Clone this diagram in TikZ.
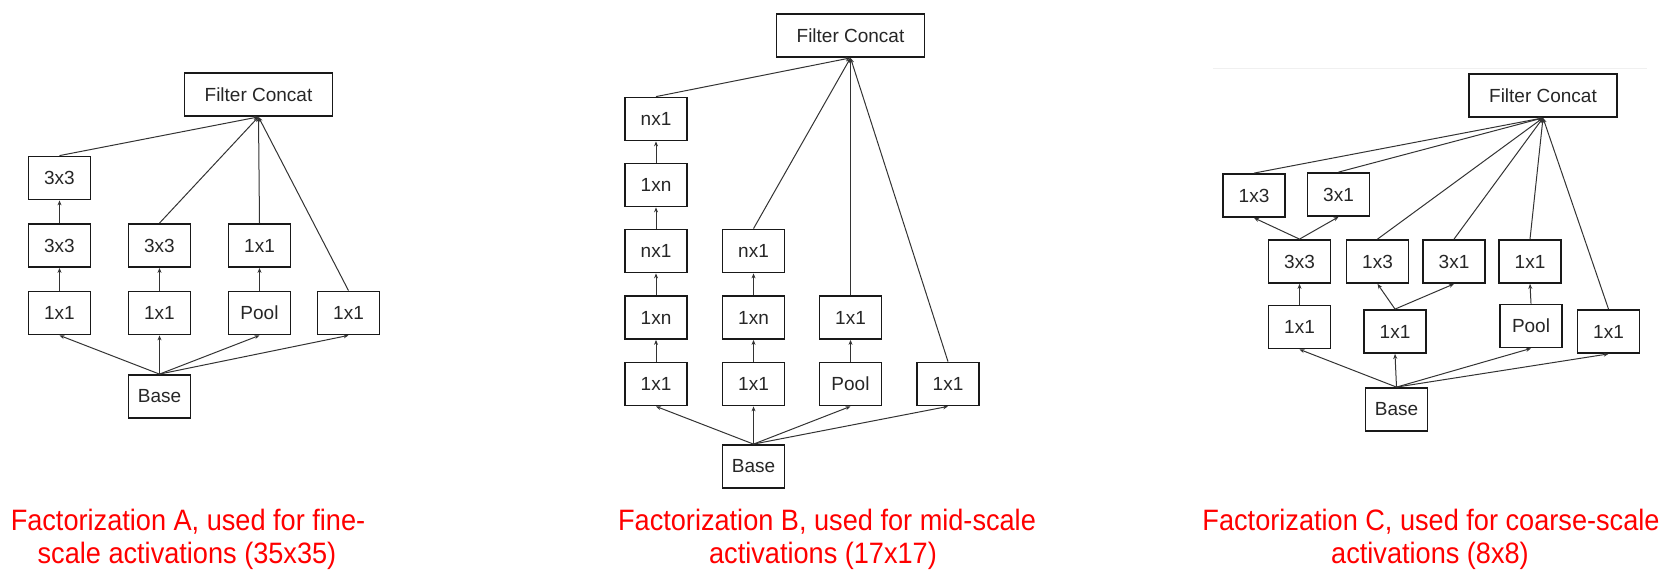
\documentclass[tikz,border=0pt]{standalone}
\usepackage{fontspec}
\setmainfont{Liberation Sans}
\newfontfamily\capfont[FakeStretch=0.92]{Liberation Sans}
\usetikzlibrary{arrows.meta}

\begin{document}
\begin{tikzpicture}[x=1pt,y=-1pt,
  box/.style={draw=black!90,line width=1.8pt,minimum width=62pt,minimum height=43pt,inner sep=0pt,text=black!85,font=\fontsize{19}{22}\selectfont},
  wide/.style={box,minimum width=148pt},
  edge/.style={draw=black!80,line width=1pt,-{Stealth[length=5pt,width=4pt]}},
  redcap/.style={text=red,anchor=base,font=\capfont\fontsize{29.5}{34}\selectfont}]

\useasboundingbox (0,0) rectangle (1670,576);

% Factorization A
\node[wide] (faFC) at (258.5,94.5) {Filter Concat};
\node[box] (fa33t) at (59.5,178) {3x3};
\node[box] (fa33a) at (59.5,245.5) {3x3};
\node[box] (fa33b) at (159.5,245.5) {3x3};
\node[box] (fa11p) at (259.5,245.5) {1x1};
\node[box] (fa11a) at (59.5,313) {1x1};
\node[box] (fa11b) at (159.5,313) {1x1};
\node[box] (faPool) at (259.5,313) {Pool};
\node[box] (fa11d) at (348.5,313) {1x1};
\node[box] (faBase) at (159.5,396.5) {Base};

\foreach \n in {fa33t,fa33b,fa11p,fa11d}
  \draw[edge] (\n.north) -- (faFC.south);
\draw[edge] (fa33a.north) -- (fa33t.south);
\draw[edge] (fa11a.north) -- (fa33a.south);
\draw[edge] (fa11b.north) -- (fa33b.south);
\draw[edge] (faPool.north) -- (fa11p.south);
\foreach \n in {fa11a,fa11b,faPool,fa11d}
  \draw[edge] (faBase.north) -- (\n.south);

% Factorization B
\node[wide] (fbFC) at (850.5,35.5) {Filter Concat};
\node[box] (fbn1a) at (656,119) {nx1};
\node[box] (fb1na) at (656,185) {1xn};
\node[box] (fbn1b) at (656,251) {nx1};
\node[box] (fb1nb) at (656,317.5) {1xn};
\node[box] (fb11a) at (656,384) {1x1};
\node[box] (fbn1c) at (753.5,251) {nx1};
\node[box] (fb1nc) at (753.5,317.5) {1xn};
\node[box] (fb11b) at (753.5,384) {1x1};
\node[box] (fb11p) at (850.5,317.5) {1x1};
\node[box] (fbPool) at (850.5,384) {Pool};
\node[box] (fb11d) at (948,384) {1x1};
\node[box] (fbBase) at (753.5,466.5) {Base};

\foreach \n in {fbn1a,fbn1c,fb11p,fb11d}
  \draw[edge] (\n.north) -- (fbFC.south);
\draw[edge] (fb1na.north) -- (fbn1a.south);
\draw[edge] (fbn1b.north) -- (fb1na.south);
\draw[edge] (fb1nb.north) -- (fbn1b.south);
\draw[edge] (fb11a.north) -- (fb1nb.south);
\draw[edge] (fb1nc.north) -- (fbn1c.south);
\draw[edge] (fb11b.north) -- (fb1nc.south);
\draw[edge] (fbPool.north) -- (fb11p.south);
\foreach \n in {fb11a,fb11b,fbPool,fb11d}
  \draw[edge] (fbBase.north) -- (\n.south);

% Factorization C
\draw[gray!12,line width=1pt] (1213,68) -- (1647,68);
\node[wide] (fcFC) at (1543,95.5) {Filter Concat};
\node[box] (fc13t) at (1254,195.5) {1x3};
\node[box] (fc31t) at (1338.5,194.5) {3x1};
\node[box] (fc33) at (1299.5,261.5) {3x3};
\node[box] (fc13) at (1377.5,261.5) {1x3};
\node[box] (fc31) at (1454,261.5) {3x1};
\node[box] (fc11p) at (1530,261.5) {1x1};
\node[box] (fc11a) at (1299.5,327) {1x1};
\node[box] (fc11b) at (1395,331.5) {1x1};
\node[box] (fcPool) at (1531,326) {Pool};
\node[box] (fc11d) at (1608.5,331.5) {1x1};
\node[box] (fcBase) at (1396.5,409.5) {Base};

\foreach \n in {fc13t,fc31t,fc13,fc31,fc11p,fc11d}
  \draw[edge] (\n.north) -- (fcFC.south);
\draw[edge] (fc33.north) -- (fc13t.south);
\draw[edge] (fc33.north) -- (fc31t.south);
\draw[edge] (fc11a.north) -- (fc33.south);
\draw[edge] (fc11b.north) -- (fc13.south);
\draw[edge] (fc11b.north) -- (fc31.south);
\draw[edge] (fcPool.north) -- (fc11p.south);
\foreach \n in {fc11a,fc11b,fcPool,fc11d}
  \draw[edge] (fcBase.north) -- (\n.south);

% captions
\node[redcap] (capA1) at (188,530) {Factorization A, used for fine-};
\node[redcap] (capA2) at (187,563) {scale activations (35x35)};
\node[redcap] (capB1) at (827,530) {Factorization B, used for mid-scale};
\node[redcap] (capB2) at (823,563) {activations (17x17)};
\node[redcap] (capC1) at (1431,530) {Factorization C, used for coarse-scale};
\node[redcap] (capC2) at (1430,563) {activations (8x8)};

\end{tikzpicture}
\end{document}
